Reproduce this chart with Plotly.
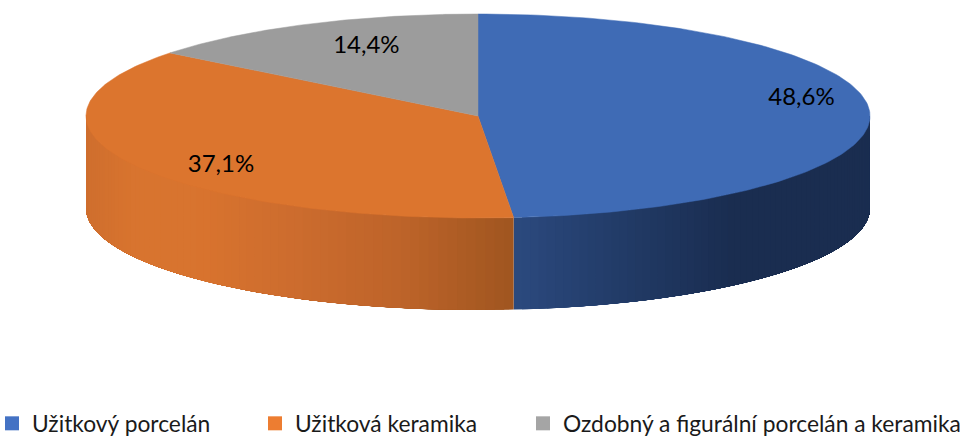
import numpy as np
import plotly.graph_objects as go

categories = ["Užitkový porcelán", "Užitková keramika", "Ozdobný a figurální porcelán a keramika"]
shares = [48.6, 37.1, 14.4]
labels = ["48,6%", "37,1%", "14,4%"]

FONT = "Lato"
TOP = ["#3f6bb5", "#dc752e", "#9c9c9c"]
KEY = ["#4472c4", "#ed7d31", "#a5a5a5"]
CX, CY, RX, RY, DEPTH = 478, 116, 392, 102, 92
LABEL_RADIUS = [0.826, 0.746, 0.652]
LABEL_DY = [-13, 14, -9]
LEGEND_LEFT = [-8, 255, 523]


def ang(pct):
    return np.asarray(pct) * 2 * np.pi / 100


def px(a):
    return CX + RX * np.sin(a)


def py(a):
    return CY - RY * np.cos(a)


def mix(stops, x):
    xs = [s[0] for s in stops]
    return "rgb(%d,%d,%d)" % tuple(np.interp(x, xs, [s[1][i] for s in stops]) for i in range(3))


SIDE_STOPS = [
    [(513, (44, 74, 127)), (600, (36, 62, 108)), (735, (26, 45, 80)), (880, (26, 45, 80))],
    [(80, (206, 110, 46)), (130, (216, 116, 47)), (200, (217, 116, 47)), (300, (204, 108, 46)), (400, (190, 100, 42)), (513, (160, 86, 32))],
]

fig = go.Figure()
total = sum(shares)
bounds = np.cumsum([0] + shares) / total * 100

# side wall, drawn in overlapping strips so the shade can change along it
for i in range(2):
    a0, a1 = ang(bounds[i]), ang(bounds[i + 1])
    a0, a1 = max(a0, np.pi / 2), min(a1, 3 * np.pi / 2)
    edges = np.linspace(a0, a1, 70)
    order = range(len(edges) - 1) if i == 1 else reversed(range(len(edges) - 1))
    for k in order:
        # each strip runs on to the far end so no seam shows through
        aa = np.linspace(edges[k], a1, 40) if i == 1 else np.linspace(a0, edges[k + 1], 40)
        xs = np.r_[px(aa), px(aa[::-1])]
        ys = np.r_[py(aa), py(aa[::-1]) + DEPTH]
        c = mix(SIDE_STOPS[i], float(px((edges[k] + edges[k + 1]) / 2)))
        fig.add_trace(go.Scatter(x=xs, y=ys, mode="lines", fill="toself", fillcolor=c,
                                 line=dict(color=c, width=0), hoverinfo="skip", showlegend=False))

# top faces
for i in range(3):
    aa = np.linspace(ang(bounds[i]), ang(bounds[i + 1]), 160)
    xs = np.r_[CX, px(aa), CX]
    ys = np.r_[CY, py(aa), CY]
    fig.add_trace(go.Scatter(x=xs, y=ys, mode="lines", fill="toself", fillcolor=TOP[i],
                             line=dict(color=TOP[i], width=0.5), hoverinfo="skip", showlegend=False))

# value labels
mids = ang((bounds[:-1] + bounds[1:]) / 2)
lx = CX + RX * np.array(LABEL_RADIUS) * np.sin(mids)
ly = CY - RY * np.array(LABEL_RADIUS) * np.cos(mids) + np.array(LABEL_DY)
fig.add_trace(go.Scatter(x=lx, y=ly, mode="text", text=labels, textposition="middle center",
                         textfont=dict(family=FONT, size=24, color="#000000"),
                         hoverinfo="skip", showlegend=False))

# legend keys, one small legend per entry so that each can sit at its own place
legends = {}
for i, (name, col) in enumerate(zip(categories, KEY)):
    key = "legend" if i == 0 else f"legend{i + 1}"
    fig.add_trace(go.Scatter(x=[None], y=[None], mode="markers", name=name, legend=key,
                             marker=dict(symbol="square", size=14, color=col)))
    legends[key] = dict(x=LEGEND_LEFT[i] / 966, y=-9 / 436, xanchor="left", yanchor="bottom",
                        itemclick=False, itemdoubleclick=False, bgcolor="rgba(0,0,0,0)",
                        font=dict(family=FONT, size=22.8, color="#1a1a1a"))

fig.update_layout(
    width=966, height=436, margin=dict(l=0, r=0, t=0, b=0, autoexpand=False), showlegend=True,
    paper_bgcolor="white", plot_bgcolor="white",
    xaxis=dict(range=[0, 966], visible=False, fixedrange=True),
    yaxis=dict(range=[436, 0], visible=False, fixedrange=True),
    **legends,
)
fig.write_html("out.html", config={"displayModeBar": False},
               post_script="document.body.style.margin='0';document.documentElement.style.overflow='hidden';")
